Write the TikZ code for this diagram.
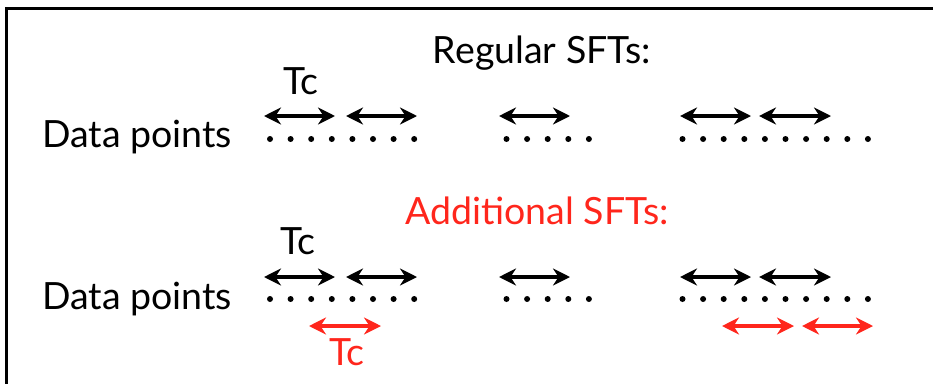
\documentclass[tikz,border=0pt]{standalone}
\usepackage{fontspec}
\setmainfont{Lato}
\usetikzlibrary{arrows.meta}
\definecolor{sftred}{RGB}{255,38,28}
\tikzset{
  lbl/.style={inner sep=0pt, anchor=base, font=\fontsize{37.5}{42}\selectfont},
  span/.style={line width=3.6pt, {Stealth[length=17pt,width=17pt,inset=5.5pt]}-{Stealth[length=17pt,width=17pt,inset=5.5pt]}},
  dot/.style={fill=black, draw=none},
}
\begin{document}
\begin{tikzpicture}[x=1pt, y=-1pt]
\useasboundingbox (0,0) rectangle (933,383);
% frame (only its top-left corner is in view)
\draw[line width=2.2pt] (6.5,400) -- (6.5,8.5) -- (950,8.5);

% headings
\node[lbl] (reg) at (542,63) {Regular SFTs:};
\node[lbl, text=sftred] (add) at (537,224) {Additional SFTs:};

% row labels
\node[lbl, anchor=base west] (dp1) at (42,147) {Data points};
\node[lbl, anchor=base west] (dp2) at (42,309) {Data points};
\node[lbl] (tc1) at (301,94) {Tc};
\node[lbl] (tc2) at (298,254) {Tc};
\node[lbl, text=sftred] (tc3) at (347,365) {Tc};

% data points, two rows
\foreach \r/\y in {1/139, 2/299} {
  \foreach \i in {0,...,7}  \fill[dot] (270+20.6*\i,\y) circle (3);
  \foreach \i in {0,...,4}  \fill[dot] (506.5+20.6*\i,\y) circle (3);
  \foreach \i in {0,...,9}  \fill[dot] (682.5+20.6*\i,\y) circle (3);
}

% coherent-time spans
\foreach \r/\y in {1/116, 2/277} {
  \coordinate (a\r) at (264,\y);   \coordinate (b\r) at (335,\y);
  \coordinate (c\r) at (346,\y);   \coordinate (d\r) at (417,\y);
  \coordinate (e\r) at (499,\y);   \coordinate (f\r) at (570,\y);
  \coordinate (g\r) at (680,\y);   \coordinate (h\r) at (751,\y);
  \coordinate (i\r) at (759,\y);   \coordinate (j\r) at (831,\y);
  \draw[span] (a\r) -- (b\r);
  \draw[span] (c\r) -- (d\r);
  \draw[span] (e\r) -- (f\r);
  \draw[span] (g\r) -- (h\r);
  \draw[span] (i\r) -- (j\r);
}
\coordinate (ra) at (309,326); \coordinate (rb) at (381,326);
\coordinate (rc) at (722,326); \coordinate (rd) at (794,326);
\coordinate (re) at (802,326); \coordinate (rf) at (873,326);
\draw[span, sftred] (ra) -- (rb);
\draw[span, sftred] (rc) -- (rd);
\draw[span, sftred] (re) -- (rf);
\end{tikzpicture}
\end{document}
